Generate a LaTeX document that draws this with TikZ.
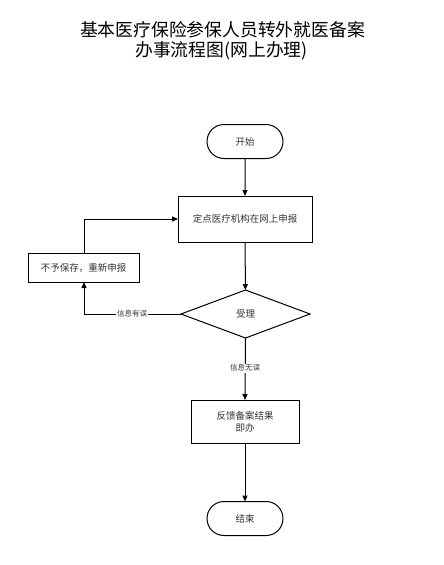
\documentclass[tikz,border=0pt]{standalone}
\usepackage{fontspec}
\setmainfont{Noto Sans CJK SC}
\newfontfamily\cjk{Noto Sans CJK SC}
\usetikzlibrary{arrows.meta,shapes.geometric,shapes.misc,positioning}
\tikzset{
  every node/.style={inner sep=0pt, outer sep=0pt},
  base/.style={draw=black, line width=1pt, font=\cjk\fontsize{9.5}{12}\selectfont, text=black!80, align=center},
  termbox/.style={base, rounded rectangle, minimum width=76pt, minimum height=34pt},
  procbox/.style={base, rectangle},
  decbox/.style={base, diamond, aspect=2.7, minimum width=129pt, minimum height=48pt},
  conn/.style={draw=black, line width=1pt, -{Triangle[length=6pt,width=5pt]}},
  lbl/.style={fill=white, font=\cjk\fontsize{7.5}{9}\selectfont, text=black!80, inner sep=1pt}
}
\begin{document}
\begin{tikzpicture}[x=1pt,y=-1pt]
\useasboundingbox (0,0) rectangle (444,565);
\node[font=\cjk\fontsize{17.8}{20}\selectfont, align=center] (title1) at (222.5,30) {基本医疗保险参保人员转外就医备案};
\node[font=\cjk\fontsize{17.8}{20}\selectfont, align=center] (title2) at (221.5,51) {办事流程图(网上办理)};
\node[termbox] (start) at (245,141.5) {开始};
\node[procbox, minimum width=134pt, minimum height=46pt] (apply) at (245,219) {定点医疗机构在网上申报};
\node[procbox, minimum width=111pt, minimum height=29pt] (reject) at (83.5,267.5) {不予保存，重新申报};
\node[decbox] (accept) at (245.5,314) {受理};
\node[procbox, minimum width=108pt, minimum height=43pt] (feedback) at (245,421.5) {反馈备案结果\\即办};
\node[termbox] (end) at (245,518.5) {结束};
\coordinate (c1) at (84,314);
\coordinate (c2) at (84,219);
\draw[conn] (start) -- (apply);
\draw[conn] (apply) -- (accept);
\draw[conn] (accept.west) -- (c1) -- (reject.south -| c1);
\node[lbl] (l1) at (132,314) {信息有误};
\draw[conn] (reject.north -| c2) -- (c2) -- (apply.west);
\draw[conn] (accept.south) -- (feedback.north);
\node[lbl] (l2) at (245,368) {信息无误};
\draw[conn] (feedback) -- (end);
\end{tikzpicture}
\end{document}
